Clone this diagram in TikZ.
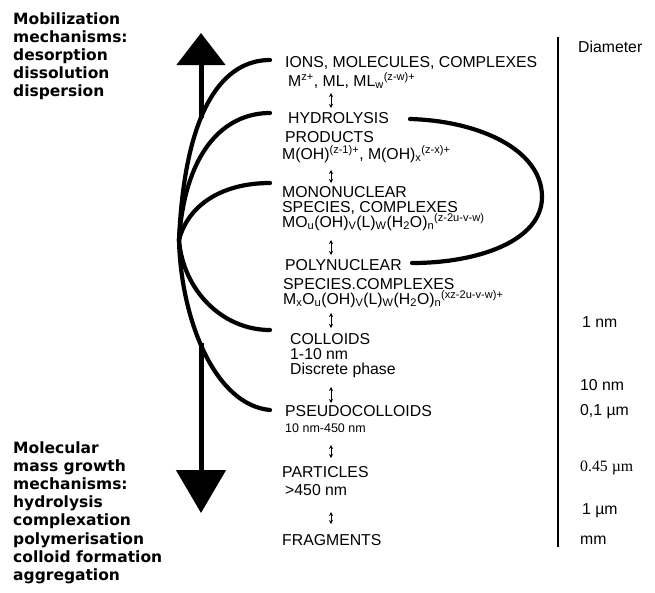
\documentclass[tikz,border=0pt]{standalone}
\usepackage{fontspec}
\setmainfont{Liberation Sans}
\newfontfamily\boldsans{DejaVu Sans}
\newfontfamily\serifu{Liberation Serif}
\usetikzlibrary{arrows.meta}
\newcommand\supx[1]{\textsuperscript{#1}}
\newcommand\subx[1]{\textsubscript{#1}}
\begin{document}
\begin{tikzpicture}[x=1pt,y=-1pt,
  lbl/.style={anchor=base west,inner sep=0pt,font=\fontsize{15.8}{18}\selectfont},
  smalllbl/.style={anchor=base west,inner sep=0pt,font=\fontsize{12.5}{15}\selectfont},
  mech/.style={anchor=base west,inner sep=0pt,font=\boldsans\bfseries\fontsize{15.5}{18}\selectfont},
  curve/.style={line width=4.2pt,line cap=round},
  shaft/.style={line width=5pt},
  updn/.style={{Stealth[length=4pt,width=4pt]}-{Stealth[length=4pt,width=4pt]},line width=1pt},
  diamline/.style={line width=2pt}]
\useasboundingbox (0,0) rectangle (655,592);

% left texts
\foreach \t [count=\i] in {Mobilization,mechanisms:,desorption,dissolution,dispersion}
  \node[mech] (mob\i) at (13,{24+18*(\i-1)}) {\t};
\foreach \t [count=\i] in {Molecular,mass growth,mechanisms:,hydrolysis,complexation,polymerisation,colloid formation,aggregation}
  \node[mech] (mol\i) at (13,{453+18.2*(\i-1)}) {\t};

% central labels
\node[lbl] (ions) at (285,67) {IONS, MOLECULES, COMPLEXES};
\node[lbl] (ionsf) at (288,86) {M\supx{z+}, ML, ML\subx{w}\supx{(z-w)+}};
\node[lbl] (hyd) at (288,123) {HYDROLYSIS};
\node[lbl] (prod) at (285,142) {PRODUCTS};
\node[lbl] (hydf) at (282,159) {M(OH)\supx{(z-1)+}, M(OH)\subx{x}\supx{(z-x)+}};
\node[lbl] (mono) at (282,197) {MONONUCLEAR};
\node[lbl] (monos) at (282,212) {SPECIES, COMPLEXES};
\node[lbl] (monof) at (282,227) {MO\subx{u}(OH)\subx{V}(L)\subx{W}(H\subx{2}O)\subx{n}\supx{(z-2u-v-w)}};
\node[lbl] (poly) at (285,270) {POLYNUCLEAR};
\node[lbl] (polys) at (283,289) {SPECIES.COMPLEXES};
\node[lbl] (polyf) at (283,304) {M\subx{x}O\subx{u}(OH)\subx{V}(L)\subx{W}(H\subx{2}O)\subx{n}\supx{(xz-2u-v-w)+}};
\node[lbl] (coll) at (290,344) {COLLOIDS};
\node[lbl] (colls) at (290,359) {1-10 nm};
\node[lbl] (collp) at (290,374) {Discrete phase};
\node[lbl] (pseudo) at (285,416) {PSEUDOCOLLOIDS};
\node[smalllbl] (pseudos) at (285,432) {10 nm-450 nm};
\node[lbl] (part) at (282,477) {PARTICLES};
\node[lbl] (parts) at (285,495) {>450 nm};
\node[lbl] (frag) at (282,545) {FRAGMENTS};

% small double arrows
\foreach \a/\b [count=\i] in {93/108,170/183,240/255,313/328,387/403,445/458,512/524}{
  \coordinate (ua\i) at (331,\a);
  \coordinate (da\i) at (331,\b);
  \draw[updn] (ua\i) -- (da\i);
}

% diameter scale
\coordinate (stop) at (558,37);
\coordinate (sbot) at (558,547);
\draw[diamline] (stop) -- (sbot);
\node[lbl] (diam) at (578,52) {Diameter};
\node[lbl] (d1) at (582,327) {1 nm};
\node[lbl] (d2) at (580,390) {10 nm};
\node[lbl] (d3) at (580,415) {0,1 µm};
\node[lbl,font=\serifu\fontsize{15.8}{18}\selectfont] (d4) at (580,471) {0.45 µm};
\node[lbl] (d5) at (582,514) {1 µm};
\node[lbl] (d6) at (580,544) {mm};

% convergence curves
\coordinate (conv) at (179,240);
\coordinate (c1) at (270,60);
\coordinate (c2) at (270,113);
\coordinate (c3) at (270,183);
\coordinate (c5) at (270,330);
\coordinate (c6) at (270,410);
\draw[curve] (c1) .. controls (225,60) and (185,105) .. (conv);
\draw[curve] (c2) .. controls (225,113) and (185,150) .. (conv);
\draw[curve] (c3) .. controls (222,183) and (188,205) .. (conv);
\draw[curve] (conv) .. controls (183,290) and (222,330) .. (c5);
\draw[curve] (conv) .. controls (181,320) and (215,405) .. (c6);

% big arrows
\coordinate (topjoin) at (201,118);
\coordinate (toptip) at (201,33);
\coordinate (botjoin) at (201,343);
\coordinate (bottip) at (201,513);
\draw[shaft,-{Triangle[length=32pt,width=48pt]}] (topjoin) -- (toptip);
\draw[shaft,-{Triangle[length=43pt,width=49pt]}] (botjoin) -- (bottip);

% loop hydrolysis -> polynuclear
\coordinate (lp1) at (410,119);
\coordinate (lpr) at (542,197);
\coordinate (lp2) at (412,263);
\draw[curve] (lp1) .. controls (480,121) and (542,150) .. (lpr)
  .. controls (542,240) and (480,263) .. (lp2);
\end{tikzpicture}
\end{document}
